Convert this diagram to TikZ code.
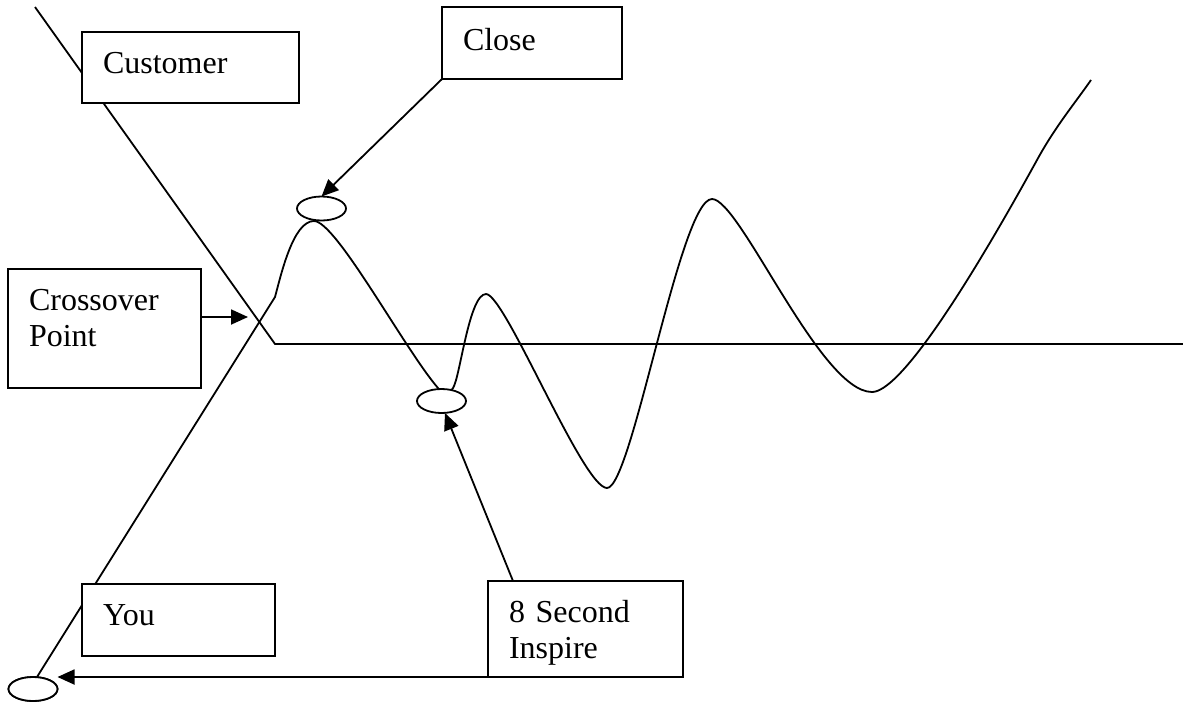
\documentclass[tikz,border=0pt]{standalone}
\usepackage{fontspec}
\setmainfont{Liberation Serif}
\usetikzlibrary{arrows.meta,shapes.geometric,calc}
\tikzset{
  lbl/.style={draw, fill=white, line width=2pt, anchor=north west, outer sep=0pt,
    inner xsep=21pt, inner ysep=0pt, align=left,
    font=\fontsize{32}{36.5}\selectfont, text height=41pt},
  oval/.style={draw, fill=white, ellipse, line width=1.8pt, inner sep=0pt,
    minimum width=49pt, minimum height=24pt, outer sep=0pt},
  ln/.style={line width=1.8pt, line join=round},
  arr/.style={line width=1.8pt, -{Triangle[length=17pt,width=15pt]}}
}
\begin{document}
\begin{tikzpicture}[x=1pt,y=-1pt]
\useasboundingbox[fill=white] (0,0) rectangle (1183,702);
% coordinates for free line ends
\coordinate (ctop) at (35,7);
\coordinate (ccorner) at (275,344);
\coordinate (cend) at (1183,344);
\coordinate (kink) at (275,297);
\coordinate (xpt) at (248,317);
\coordinate (wend) at (1091,80);
% customer line
\draw[ln] (ctop) -- (ccorner) -- (cend);
% ellipse positions (drawn later)
\node[oval] (e3) at (33,689) {};
% you line and wave
\draw[ln] ([xshift=4pt]e3.north) -- (kink)
  .. controls (281,275) and (293,221) .. (314,221)
  .. controls (336,221) and (405,350) .. (438,388)
  .. controls (443,396) and (448,396) .. (453,388)
  .. controls (460,378) and (469,294) .. (486,294)
  .. controls (505,294) and (583,488) .. (607,488)
  .. controls (632,488) and (680,199) .. (712,199)
  .. controls (740,199) and (820,392) .. (872,392)
  .. controls (898,392) and (960,300) .. (1037,160)
  .. controls (1055,127) and (1075,103) .. (wend);
% ellipses
\node[oval] (e1) at (321.5,208.5) {};
\node[oval] (e2) at (441.5,401) {};
\node[oval] at (e3) {};
% boxes
\node[lbl, text width=175pt, text depth=30pt] (cust) at (82,32) {Customer};
\node[lbl, text width=138pt, text height=43pt, text depth=29pt] (close) at (442,7) {Close};
\node[lbl, text width=151pt, text depth=78pt] (cross) at (8,269) {Crossover\\Point};
\node[lbl, text width=151pt, text depth=31pt] (you) at (82,584) {You};
\node[lbl, text width=153pt, text depth=55pt] (eight) at (488,581) {8 Second\\Inspire};
% arrows
\draw[arr] (close.south west) -- (e1.north);
\draw[arr] (cross.east |- xpt) -- (xpt);
\draw[arr] ([xshift=25pt]eight.north west) -- ([xshift=3.5pt]e2.south);
\draw[arr] (eight.south east) -- (e3.north -| e3.east);
\end{tikzpicture}
\end{document}
